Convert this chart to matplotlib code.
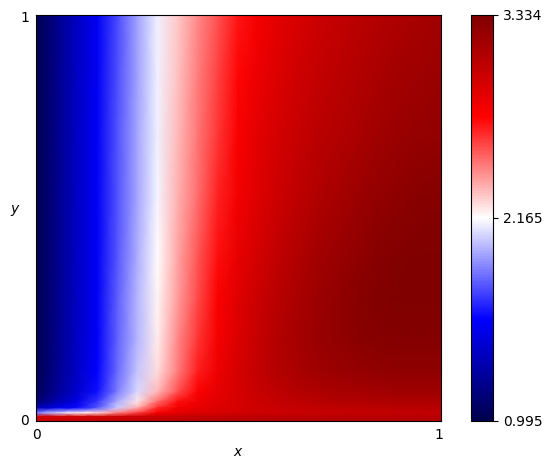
import numpy as np
import matplotlib
matplotlib.use("Agg")
import matplotlib.pyplot as plt

VMIN, VMID, VMAX = 0.995, 2.165, 3.334
x_nodes = [-0.005, 0.05, 0.1, 0.15, 0.2, 0.25, 0.3, 0.35, 0.4, 0.45, 0.5,
           0.55, 0.6, 0.65, 0.7, 0.75, 0.8, 0.85, 0.9, 0.95, 1.006]
y_nodes = [1.005, 0.85, 0.7, 0.55, 0.4, 0.3, 0.2, 0.12, 0.07, 0.045, 0.03,
           0.0175, 0.008, -0.005]

row_100 = [1.00, 1.20, 1.38, 1.55, 1.75, 1.95, 2.13, 2.29, 2.43, 2.56, 2.70, 2.79, 2.87, 2.93, 2.98, 3.02, 3.06, 3.09, 3.12, 3.15, 3.18]
row_085 = [1.00, 1.20, 1.38, 1.55, 1.76, 1.95, 2.13, 2.31, 2.46, 2.60, 2.74, 2.84, 2.91, 2.97, 3.02, 3.06, 3.10, 3.14, 3.17, 3.19, 3.21]
row_070 = [1.00, 1.20, 1.38, 1.56, 1.77, 1.96, 2.13, 2.32, 2.48, 2.63, 2.77, 2.87, 2.95, 3.01, 3.06, 3.10, 3.14, 3.18, 3.21, 3.23, 3.25]
row_055 = [1.00, 1.20, 1.38, 1.56, 1.77, 1.96, 2.14, 2.34, 2.50, 2.67, 2.80, 2.90, 2.98, 3.05, 3.11, 3.16, 3.20, 3.24, 3.27, 3.29, 3.30]
row_040 = [1.00, 1.20, 1.38, 1.56, 1.78, 1.98, 2.17, 2.37, 2.55, 2.72, 2.85, 2.95, 3.04, 3.11, 3.17, 3.22, 3.26, 3.30, 3.32, 3.33, 3.33]
row_030 = [1.00, 1.20, 1.38, 1.56, 1.79, 2.00, 2.19, 2.39, 2.58, 2.76, 2.89, 2.99, 3.07, 3.14, 3.20, 3.25, 3.29, 3.32, 3.33, 3.33, 3.33]
row_020 = [1.00, 1.20, 1.38, 1.57, 1.80, 2.00, 2.21, 2.43, 2.63, 2.79, 2.91, 3.01, 3.09, 3.16, 3.21, 3.25, 3.28, 3.30, 3.31, 3.31, 3.31]
row_012 = [1.01, 1.21, 1.39, 1.58, 1.82, 2.03, 2.24, 2.46, 2.68, 2.83, 2.94, 3.02, 3.09, 3.14, 3.18, 3.21, 3.23, 3.25, 3.26, 3.26, 3.26]
row_007 = [1.03, 1.24, 1.42, 1.61, 1.87, 2.08, 2.32, 2.56, 2.75, 2.86, 2.94, 3.00, 3.05, 3.09, 3.12, 3.15, 3.16, 3.17, 3.18, 3.18, 3.18]
row_0045 = [1.10, 1.32, 1.50, 1.70, 1.98, 2.22, 2.50, 2.72, 2.82, 2.88, 2.94, 2.98, 3.02, 3.05, 3.07, 3.09, 3.10, 3.11, 3.12, 3.12, 3.12]
row_003 = [1.35, 1.50, 1.60, 1.78, 2.05, 2.35, 2.65, 2.80, 2.86, 2.90, 2.94, 2.97, 3.00, 3.02, 3.03, 3.04, 3.05, 3.06, 3.07, 3.07, 3.07]
row_0018 = [1.85, 2.05, 2.20, 2.25, 2.45, 2.60, 2.78, 2.86, 2.90, 2.93, 2.95, 2.97, 2.98, 2.99, 3.00, 3.01, 3.02, 3.03, 3.03, 3.03, 3.03]
row_0008 = [2.95, 2.96, 2.97, 2.98, 2.99, 3.00, 3.01, 3.02, 3.03, 3.04, 3.05, 3.05, 3.06, 3.06, 3.06, 3.07, 3.07, 3.07, 3.07, 3.07, 3.07]
row_0000 = [2.97, 2.98, 2.99, 3.00, 3.01, 3.02, 3.03, 3.04, 3.05, 3.06, 3.07, 3.07, 3.08, 3.08, 3.08, 3.09, 3.09, 3.09, 3.09, 3.09, 3.09]
rows = [row_100, row_085, row_070, row_055, row_040, row_030, row_020, row_012,
        row_007, row_0045, row_003, row_0018, row_0008, row_0000]

W, H = 551, 469
fig = plt.figure(figsize=(W / 100, H / 100), dpi=100)
ax = fig.add_axes([36 / W, 1 - 421 / H, 405 / W, 406 / H])
cax = fig.add_axes([471 / W, 1 - 421 / H, 22 / W, 406 / H])

mesh = ax.pcolormesh(x_nodes, y_nodes, np.array(rows), cmap="seismic",
                     vmin=VMIN, vmax=VMAX, shading="gouraud")
ax.set_xlim(-0.002, 1.0057)
ax.set_ylim(-0.0025, 1.0025)
ax.set_xticks([0, 1], ["0", "1"])
ax.set_yticks([0, 1], ["0", "1"])
ax.tick_params(length=0, pad=5)
ax.set_xlabel("$x$", labelpad=2)
ax.set_ylabel("$y$", rotation=0, va="center")
ax.yaxis.set_label_coords(-0.052, 0.518)

cb = fig.colorbar(mesh, cax=cax)
cb.set_ticks([VMIN, VMID, VMAX], labels=["0.995", "2.165", "3.334"])

fig.savefig("out.png", dpi=100)
